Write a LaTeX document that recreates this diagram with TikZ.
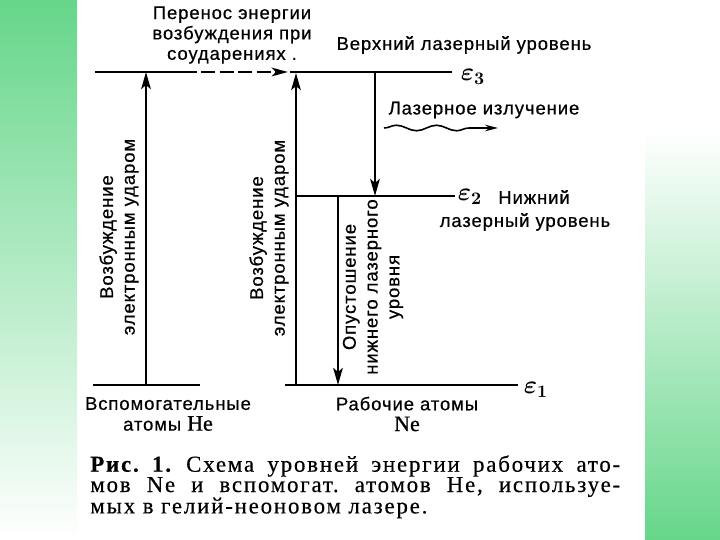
\documentclass[tikz,border=0pt]{standalone}
\usepackage{fontspec}
\setmainfont{Liberation Sans}[LetterSpace=5, FakeBold=0.6]
\newfontfamily\capfont[LetterSpace=8, FakeBold=0.4]{Liberation Serif}
\newfontfamily\elfont[FakeBold=0.8]{Liberation Serif}
\usetikzlibrary{arrows.meta,decorations.pathmorphing}
\frenchspacing

\definecolor{bggreen}{RGB}{102,214,138}

\begin{document}
\begin{tikzpicture}[
  x=0.02cm, y=-0.02cm,
  level/.style={line width=1.7pt},
  pump/.style={line width=1.5pt, -{Stealth[length=3.4mm,width=1.9mm,inset=0.8mm]}},
  xferline/.style={line width=1.7pt, dash pattern=on 2.8mm off 0.9mm, -{Stealth[length=3.2mm,width=1.7mm,inset=0.8mm]}},
  wave/.style={line width=0.9pt, decorate, decoration={snake, amplitude=0.55mm, segment length=8mm, post length=3mm}, -{Stealth[length=2.6mm,width=1.3mm]}},
  lbl/.style={font=\fontsize{10.5}{11.2}\selectfont, inner sep=0pt, align=center},
  rlbl/.style={lbl, font=\fontsize{10.5}{12.4}\selectfont, rotate=90},
  elbl/.style={font=\Large\boldmath, inner sep=0pt},
  capline/.style={font=\capfont\fontsize{13}{15}\selectfont, inner sep=0pt}
]
\useasboundingbox (0,0) rectangle (720,540);
% backdrop
\fill[white] (0,0) rectangle (720,540);
\shade[top color=bggreen, bottom color=white] (0,0) rectangle (77,540);
\shade[top color=white, bottom color=bggreen] (645,130) rectangle (720,540);

% level end points
\coordinate (he3L) at (95,72);
\coordinate (he3R) at (183,72);
\coordinate (xfer) at (288,72);
\coordinate (ne3L) at (290,72);
\coordinate (ne3R) at (452,72);
\coordinate (ne2L) at (296,196);
\coordinate (ne2R) at (455,196);
\coordinate (he1L) at (93,385);
\coordinate (he1R) at (200,385);
\coordinate (ne1L) at (285,385);
\coordinate (ne1R) at (518,385);

% levels
\draw[level] (he3L) -- (he3R);
\draw[xferline] (he3R) -- (xfer);
\draw[level] (ne3L) -- (ne3R);
\draw[level] (ne2L) -- (ne2R);
\draw[level] (he1L) -- (he1R);
\draw[level] (ne1L) -- (ne1R);

% transitions
\coordinate (hePumpA) at (146,385);
\coordinate (hePumpB) at (146,72);
\coordinate (nePumpA) at (296,385);
\coordinate (nePumpB) at (296,73);
\coordinate (laserA) at (375,72);
\coordinate (laserB) at (375,196);
\coordinate (emptyA) at (338,196);
\coordinate (emptyB) at (338,385);
\coordinate (waveA) at (384,128);
\coordinate (waveB) at (498,128);
\draw[pump] (hePumpA) -- (hePumpB);
\draw[pump] (nePumpA) -- (nePumpB);
\draw[pump] (laserA) -- (laserB);
\draw[pump] (emptyA) -- (emptyB);
\draw[wave] (waveA) -- (waveB);

% labels
\node[lbl, font=\fontsize{10.5}{11.6}\selectfont] (xferText) at (232,35) {Перенос энергии\\возбуждения при\\соударениях .};
\node[lbl] (upperText) at (464,45) {Верхний лазерный уровень};
\node[elbl] (e3) at (473,77) {$\varepsilon_3$};
\node[lbl] (laserText) at (484,110) {Лазерное излучение};
\node[elbl] (e2) at (470,197) {$\varepsilon_2$};
\node[lbl, anchor=west] (lowerText) at (498,197) {Нижний};
\node[lbl] (lowerText2) at (525,222) {лазерный уровень};
\node[elbl] (e1) at (536,390) {$\varepsilon_1$};
\node[rlbl] (heExc) at (119,237) {Возбуждение\\электронным ударом};
\node[rlbl] (neExc) at (269,238) {Возбуждение\\электронным ударом};
\node[rlbl] (emptyText) at (373,287) {Опустошение\\нижнего лазерного\\уровня};
\node[lbl, font=\fontsize{10.5}{11.8}\selectfont] (heText) at (168,414) {Вспомогательные\\атомы {\elfont\fontsize{12.5}{12}\selectfont He}};
\node[lbl, font=\fontsize{10.5}{11.8}\selectfont] (neText) at (407,414) {Рабочие атомы\\{\elfont\fontsize{12.5}{12}\selectfont Ne}};

% caption
\node[capline, anchor=west] (cap1) at (90,466) {\makebox[10.6cm][s]{\textbf{Рис. 1.} Схема уровней энергии рабочих ато-}};
\node[capline, anchor=west] (cap2) at (90,487) {\makebox[10.6cm][s]{мов Ne и вспомогат. атомов He, используе-}};
\node[capline, anchor=west] (cap3) at (90,508) {мых в гелий-неоновом лазере.};
\end{tikzpicture}
\end{document}
